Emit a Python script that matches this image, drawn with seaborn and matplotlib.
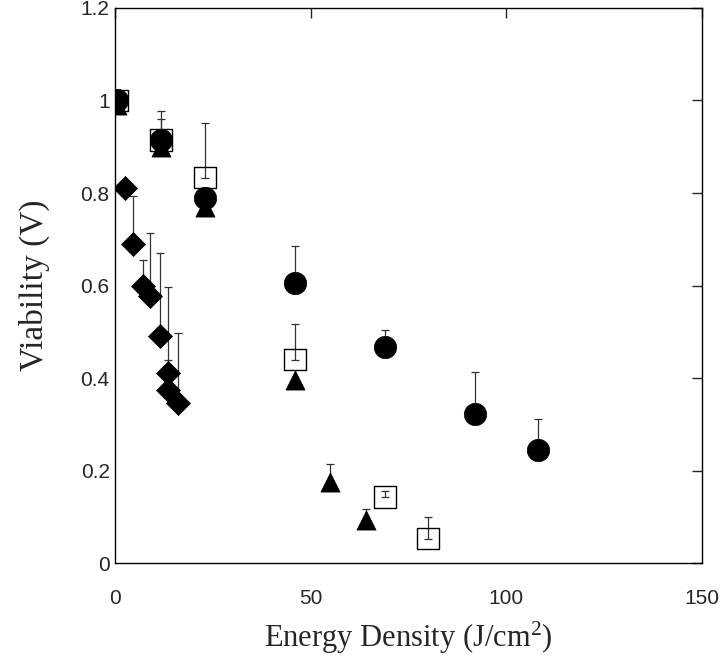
import numpy as np
import pandas as pd
import seaborn as sns
import matplotlib.pyplot as plt

# Diamonds (filled)
dia_x = [2.5, 4.5, 7, 9, 11.5, 13.5, 13.5, 16]
dia_y = [0.81, 0.69, 0.598, 0.578, 0.49, 0.411, 0.374, 0.347]
dia_top = [0.81, 0.794, 0.655, 0.714, 0.670, 0.597, 0.439, 0.497]

# Circles (filled)
cir_x = [0.5, 11.7, 23, 46, 69, 92, 108]
cir_y = [1.0, 0.915, 0.79, 0.605, 0.468, 0.322, 0.244]
cir_top = [1.0, 0.977, 0.81, 0.686, 0.504, 0.414, 0.311]

# Squares (open)
sq_x = [0.5, 11.7, 23, 46, 69, 80]
sq_y = [1.0, 0.915, 0.833, 0.44, 0.143, 0.053]
sq_top = [1.0, 0.96, 0.951, 0.516, 0.156, 0.10]

# Triangles (filled)
tri_x = [0.5, 11.7, 23, 46, 55, 64]
tri_y = [0.99, 0.90, 0.77, 0.396, 0.176, 0.093]
tri_top = [0.99, 0.90, 0.77, 0.396, 0.215, 0.117]

series = [
    ('diamond', dia_x, dia_y, dia_top),
    ('triangle', tri_x, tri_y, tri_top),
    ('square', sq_x, sq_y, sq_top),
    ('circle', cir_x, cir_y, cir_top),
]

rows = []
for name, xs, ys, tops in series:
    for x, y, t in zip(xs, ys, tops):
        rows.append({'group': name, 'x': x, 'y': y, 'top': t})
df = pd.DataFrame(rows)

sns.set_style('white')
plt.rcParams['mathtext.fontset'] = 'custom'
plt.rcParams['mathtext.rm'] = 'Liberation Serif'
plt.rcParams['mathtext.it'] = 'Liberation Serif:italic'

fig = plt.figure(figsize=(7.2, 6.64), dpi=100)
ax = fig.add_axes([0.16, 0.152, 0.815, 0.836])

# One-sided (upper) error bars
for name, xs, ys, tops in series:
    up = np.array(tops) - np.array(ys)
    ax.errorbar(xs, ys, yerr=[np.zeros(len(ys)), up], fmt='none',
                ecolor='#333333', elinewidth=0.9, capsize=3, capthick=0.9, zorder=1)

markers = {'diamond': 'D', 'triangle': '^', 'square': 's', 'circle': 'o'}
sizes = {'diamond': 150, 'triangle': 190, 'square': 240, 'circle': 260}
for name in ['diamond', 'triangle', 'circle']:
    sub = df[df['group'] == name]
    sns.scatterplot(data=sub, x='x', y='y', marker=markers[name], s=sizes[name],
                    color='black', edgecolor='black', linewidth=0.5, ax=ax, zorder=3)
sub = df[df['group'] == 'square']
sns.scatterplot(data=sub, x='x', y='y', marker='s', s=sizes['square'],
                facecolor='none', edgecolor='black', linewidth=1.0, ax=ax, zorder=2)

ax.set_xlim(0, 150)
ax.set_ylim(0, 1.2)
ax.set_xticks([0, 50, 100, 150])
ax.set_yticks([0, 0.2, 0.4, 0.6, 0.8, 1.0, 1.2])
ax.set_yticklabels(['0', '0.2', '0.4', '0.6', '0.8', '1', '1.2'])
ax.tick_params(direction='in', length=7, width=1, top=True, right=True,
               labelsize=15)
ax.tick_params(axis='y', pad=4)
ax.tick_params(axis='x', pad=19)
for lab in ax.get_xticklabels() + ax.get_yticklabels():
    lab.set_family(['Liberation Sans', 'DejaVu Sans'])
for sp in ax.spines.values():
    sp.set_color('black')
    sp.set_linewidth(1.0)

ax.set_xlabel('Energy Density (J/cm$^2$)', fontsize=22,
              family=['Liberation Serif', 'DejaVu Serif'], labelpad=8)
ax.set_ylabel('Viability (V)', fontsize=24,
              family=['Liberation Serif', 'DejaVu Serif'], labelpad=22)

fig.savefig('out.png', dpi=100)
